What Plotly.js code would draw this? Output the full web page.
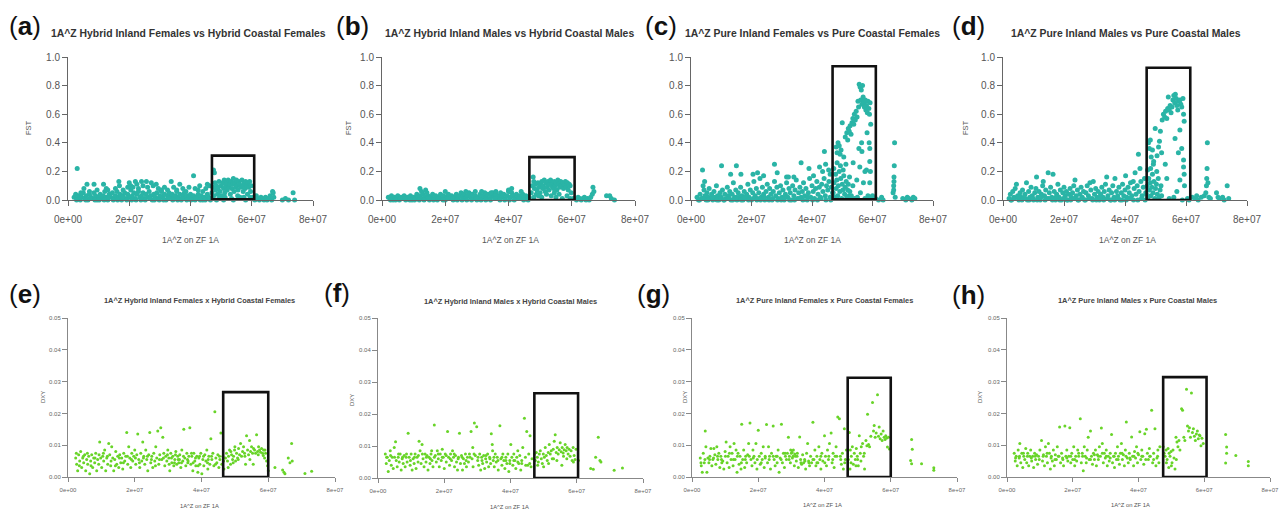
<!DOCTYPE html>
<html><head><meta charset="utf-8">
<script src="https://cdn.plot.ly/plotly-3.0.1.min.js"></script>
<style>body{margin:0;background:#fff}#chart{width:1282px;height:512px}</style>
</head><body><div id="chart"></div>
<script>
// positions in Mb along ZF 1A, values FST / DXY
const fstHybridFemales = [
[2,.02],[2.5,.04],[3,.01],[3.5,.03],[4,.0],[4.5,.02],[5,.05],[5.5,.01],[6,.03],[6.5,.0],[7,.04],[7.5,.02],[8,.01],[8.5,.05],[9,.03],[9.5,.0],[10,.02],[10.5,.04],[11,.01],[11.5,.03],[12,.06],[12.5,.02],[13,.0],[13.5,.04],[14,.02],[14.5,.05],[15,.01],[15.5,.03],[16,.06],[16.5,.02],[17,.04],[17.5,.0],[18,.03],[18.5,.05],[19,.01],[19.5,.04],[20,.02],[20.5,.07],[21,.03],[21.5,.05],[22,.01],[22.5,.04],[23,.06],[23.5,.02],[24,.03],[24.5,.05],[25,.01],[25.5,.04],[26,.02],[26.5,.06],[27,.03],[27.5,.0],[28,.04],[28.5,.02],[29,.05],[29.5,.01],[30,.03],[30.5,.06],[31,.02],[31.5,.04],[32,.0],[32.5,.03],[33,.05],[33.5,.02],[34,.04],[34.5,.01],[35,.03],[35.5,.06],[36,.02],[36.5,.04],[37,.0],[37.5,.03],[38,.05],[38.5,.01],[39,.03],[39.5,.02],[40,.04],[40.5,.01],[41,.03],[41.5,.0],[42,.02],[42.5,.04],[43,.01],[43.5,.03],[44,.0],[44.5,.02],[45,.01],[45.5,.04],[46,.02],[46.5,.0],
[2.8,.0],[4.2,.05],[5.8,.0],[7.2,.01],[8.8,.0],[10.2,.0],[11.8,.0],[13.2,.02],[14.8,.0],[16.2,.0],[17.8,.02],[19.2,.0],[20.8,.0],[22.2,.0],[23.8,.0],[25.2,.0],[26.8,.01],[28.2,.0],[29.8,.0],[31.2,.0],[32.8,.01],[34.2,.0],[35.8,.0],[37.2,.01],[38.8,.0],[40.2,.0],[41.8,.01],[43.2,.0],[44.8,.0],[46.2,.01],
[3,.22],[5.2,.08],[6.2,.11],[7,.06],[8.5,.11],[9.5,.07],[11.6,.11],[12.5,.08],[13,.07],[15.5,.08],[16.6,.13],[16.8,.1],[18,.07],[19.5,.09],[20,.12],[20.5,.1],[21.2,.09],[22,.13],[22.5,.11],[23,.08],[24,.13],[24.5,.1],[25.6,.13],[26,.09],[27.2,.12],[27.8,.1],[28.8,.11],[29.5,.08],[30.5,.07],[31.5,.09],[32.5,.07],[33.7,.13],[34.5,.09],[35.5,.07],[36.5,.11],[37.5,.08],[38.5,.06],[39.5,.09],[41,.17],[41.5,.08],[42.5,.07],[43,.1],[44,.06],[45,.08],[45.5,.11],[46.2,.1],[47.5,.21],[47.8,.19],
[47,.05],[47.3,.09],[47.6,.03],[48,.12],[48.2,.07],[48.5,.1],[48.8,.04],[49,.08],[49.3,.13],[49.6,.06],[50,.1],[50.2,.03],[50.5,.12],[50.8,.08],[51,.14],[51.2,.05],[51.5,.1],[51.8,.12],[52,.07],[52.3,.14],[52.5,.09],[52.8,.11],[53,.04],[53.2,.13],[53.5,.08],[53.8,.11],[54,.15],[54.2,.06],[54.5,.12],[54.8,.09],[55,.14],[55.2,.1],[55.5,.07],[55.8,.13],[56,.11],[56.2,.02],[56.5,.09],[56.8,.14],[57,.1],[57.2,.06],[57.5,.12],[57.8,.08],[58,.13],[58.3,.1],[58.6,.04],[58.8,.12],[59,.09],[59.3,.13],[59.6,.06],[59.8,.1],[49.5,.02],[51.3,.02],[53.4,.01],[55.4,.03],[57.4,.02],[59.5,.02],[48.5,.0],[50.8,.0],[54,.0],[58,.0],
[60.5,.02],[61,.0],[61.5,.03],[62,.01],[62.5,.0],[63,.02],[63.5,.01],[64,.0],[64.5,.02],[65,.0],[65.5,.01],[66,.03],[66.5,.0],[67,.05],[67.2,.02],[66.8,.06],[70,.0],[71,.01],[72,.0],[73.5,.05],[74,.0]
];
const fstHybridMales = [
[2,.02],[2.5,.01],[3,.03],[3.5,.0],[4,.02],[4.5,.01],[5,.03],[5.5,.0],[6,.02],[6.5,.01],[7,.03],[7.5,.0],[8,.02],[8.5,.01],[9,.03],[9.5,.0],[10,.02],[10.5,.01],[11,.04],[11.5,.02],[12,.03],[12.5,.01],[13,.04],[13.5,.02],[14,.01],[14.5,.03],[15,.0],[15.5,.02],[16,.04],[16.5,.01],[17,.03],[17.5,.0],[18,.02],[18.5,.04],[19,.01],[19.5,.03],[20,.0],[20.5,.02],[21,.04],[21.5,.01],[22,.03],[22.5,.0],[23,.02],[23.5,.04],[24,.01],[24.5,.03],[25,.05],[25.5,.02],[26,.04],[26.5,.01],[27,.03],[27.5,.05],[28,.02],[28.5,.04],[29,.01],[29.5,.03],[30,.0],[30.5,.02],[31,.04],[31.5,.01],[32,.03],[32.5,.05],[33,.02],[33.5,.04],[34,.01],[34.5,.03],[35,.05],[35.5,.02],[36,.04],[36.5,.01],[37,.03],[37.5,.05],[38,.02],[38.5,.04],[39,.01],[39.5,.03],[40,.06],[40.5,.02],[41,.05],[41.5,.03],[42,.01],[42.5,.04],[43,.02],[43.5,.03],[44,.01],[44.5,.04],[45,.02],[45.5,.03],[46,.01],[46.5,.02],
[2.7,.0],[4.3,.0],[5.8,.01],[7.3,.01],[8.8,.0],[10.3,.0],[11.8,.0],[13.3,.0],[14.8,.01],[16.3,.0],[17.8,.01],[19.3,.0],[20.8,.01],[22.3,.01],[23.8,.0],[25.3,.0],[26.8,.0],[28.3,.0],[29.8,.01],[31.3,.0],[32.8,.0],[34.3,.0],[35.8,.01],[37.3,.0],[38.8,.0],[40.3,.0],[41.8,.0],[43.3,.01],[44.8,.0],[46.2,.0],
[12,.08],[12.5,.06],[13.8,.07],[14.2,.05],[20,.06],[26.5,.06],[29.5,.06],[31.5,.06],[34.5,.05],[36,.06],[40,.07],[40.5,.06],[41,.08],[44,.06],
[47.2,.05],[47.5,.1],[47.8,.16],[48,.13],[48.2,.08],[48.5,.11],[48.8,.04],[49,.07],[49.3,.12],[49.6,.09],[50,.05],[50.2,.11],[50.5,.13],[50.8,.08],[51,.1],[51.3,.14],[51.6,.06],[51.9,.12],[52.2,.09],[52.5,.13],[52.8,.07],[53,.11],[53.3,.14],[53.6,.1],[53.9,.12],[54.2,.08],[54.5,.13],[54.8,.1],[55,.12],[55.3,.07],[55.6,.14],[55.9,.11],[56.2,.09],[56.5,.13],[56.8,.1],[57.1,.12],[57.4,.08],[57.7,.11],[58,.13],[58.3,.09],[58.6,.12],[58.9,.07],[59.2,.11],[59.5,.1],[59.8,.05],[48,.02],[49.5,.03],[50.5,.02],[52,.04],[53.5,.03],[55,.02],[57,.01],[58.5,.03],[59.5,.01],[56,.04],[54.5,.05],
[60.5,.01],[61.5,.0],[62,.02],[62.5,.01],[63,.0],[63.5,.01],[64,.02],[64.5,.0],[65,.01],[65.5,.0],[66,.02],[66.5,.04],[66.7,.09],[67,.06],[71,.03],[72,.03],[72.5,.01],[73.5,.0]
];
const fstPureFemales = [
[2,.02],[2.5,.0],[3,.04],[3.5,.01],[4,.1],[4.3,.07],[4.6,.03],[5,.0],[5.3,.05],[5.7,.02],[6,.08],[6.4,.01],[6.8,.04],[7.2,.0],[7.6,.06],[8,.02],[8.4,.1],[8.8,.03],[9.2,.0],[9.6,.05],[10,.02],[10.4,.07],[10.8,.0],[11.2,.04],[11.6,.01],[12,.09],[12.4,.03],[12.8,.06],[13.2,.0],[13.6,.04],[14,.12],[14.4,.02],[14.8,.07],[15.2,.0],[15.6,.05],[16,.02],[16.4,.09],[16.8,.03],[17.2,.0],[17.6,.06],[18,.01],[18.4,.04],[18.8,.11],[19.2,.02],[19.6,.07],[20,.0],[20.4,.05],[20.8,.13],[21.2,.03],[21.6,.08],[22,.01],[22.4,.05],[22.8,.15],[23.2,.02],[23.6,.09],[24,.04],[24.4,.0],[24.8,.06],[25.2,.11],[25.6,.02],[26,.08],[26.4,.04],[26.8,.0],[27.2,.06],[27.6,.13],[28,.03],[28.4,.09],[28.8,.01],[29.2,.05],[29.6,.1],[30,.02],[30.4,.07],[30.8,.0],[31.2,.04],[31.6,.12],[32,.02],[32.4,.08],[32.8,.05],[33.2,.0],[33.6,.1],[34,.03],[34.4,.07],[34.8,.14],[35.2,.01],[35.6,.05],[36,.09],[36.4,.02],[36.8,.06],[37.2,.12],[37.6,.03],[38,.08],[38.4,.0],[38.8,.05],[39.2,.15],[39.6,.02],[40,.1],[40.4,.06],[40.8,.01],[41.2,.08],[41.6,.13],[42,.04],[42.4,.09],[42.8,.02],[43.2,.11],[43.6,.06],[44,.15],[44.4,.03],[44.8,.1],[45.2,.07],[45.6,.13],[46,.02],[46.4,.09],[46.8,.05],
[2.8,.0],[3.8,.01],[5.6,.0],[7,.02],[8.6,.0],[9.8,.01],[11,.0],[12.6,.01],[13.8,.0],[15,.02],[16.6,.0],[17.8,.02],[19,.0],[20.6,.01],[21.8,.0],[23,.0],[24.2,.02],[25.8,.0],[27,.01],[28.6,.0],[29.8,.0],[31,.02],[32.6,.0],[34.2,.0],[35.8,.01],[37,.0],[38.6,.02],[40.2,.0],[41.8,.0],[43,.01],[44.6,.0],[46.2,.0],
[3.8,.21],[4.5,.13],[10.1,.24],[13.1,.18],[15,.24],[16.5,.18],[20.5,.18],[22,.19],[24,.17],[27.6,.25],[28.5,.19],[31.6,.16],[32.2,.16],[34,.16],[36.4,.26],[39,.22],[40.5,.17],[42.5,.23],[43.5,.2],[44.1,.34],[44.5,.25],[45.5,.21],[46,.18],
[47,.05],[47.3,.12],[47.5,.02],[47.8,.18],[48,.08],[48.2,.14],[48.5,.03],[48.7,.1],[49,.2],[49.2,.06],[49.5,.15],[49.8,.01],[50,.11],[50.2,.07],[50.5,.17],[50.8,.04],[51,.09],[51.3,.13],[51.5,.02],[51.8,.07],[52,.11],[52.3,.03],[52.5,.06],[47.2,.22],[48.3,.26],[49.4,.24],[50.3,.21],[51.2,.25],[52.4,.16],[53,.03],[53.5,.1],[54,.01],[55,.02],[56,.05],[57.5,.01],[58.5,.03],[59.5,.02],[60,.03],
[48,.37],[48.3,.33],[48.6,.4],[49,.38],[49.3,.32],[49.6,.35],[50,.54],[50.5,.3],[51,.44],[51.5,.47],[51.8,.42],[52,.5],[52.3,.48],[52.6,.52],[52.9,.46],[53.2,.54],[53.5,.57],[53.8,.53],[54,.6],[54.3,.56],[54.6,.62],[54.9,.58],[55.2,.69],[55.4,.65],[55.6,.81],[55.9,.79],[56.1,.7],[56.3,.77],[56.5,.67],[56.7,.8],[56.9,.72],[57.1,.68],[57.3,.65],[57.6,.7],[57.8,.63],[58,.66],[58.3,.61],[58.5,.69],[58.8,.64],[59,.6],[59.2,.68],[59.4,.53],[58.2,.47],[56.4,.4],[58.9,.4],[59.1,.36],[59.1,.27],[58,.21],[59.1,.12],[57,.12],[55.8,.23],[53.6,.26],[54.8,.14],[57.5,.2],[59.3,.2],[55.5,.36],[56.5,.34],
[61,.01],[62,.0],[63,.02],[63.5,.0],[66.8,.05],[67,.07],[67,.1],[67.1,.13],[67.1,.16],[67.2,.24],[67.3,.4],[67.5,.02],[70,.01],[71,.0],[71.5,.02],[72,.01],[73,.0],[73.5,.02],[74,.01]
];
const fstPureMales = [
[2,.01],[2.4,.04],[2.8,.0],[3.2,.06],[3.6,.02],[4,.08],[4.4,.11],[4.8,.03],[5.2,.0],[5.6,.05],[6,.02],[6.4,.07],[6.8,.01],[7.2,.04],[7.7,.12],[8,.0],[8.4,.06],[8.8,.02],[9.2,.09],[9.6,.03],[10,.0],[10.4,.05],[10.8,.08],[11,.16],[11.4,.02],[11.8,.06],[12.2,.0],[12.6,.04],[13,.1],[13.2,.13],[13.6,.03],[14,.07],[14.4,.01],[14.8,.19],[15.2,.05],[15.6,.09],[16,.02],[16.4,.18],[16.8,.06],[17.2,.0],[17.6,.04],[18,.11],[18.4,.02],[18.8,.07],[19.2,.0],[19.6,.05],[20,.09],[20.4,.03],[20.8,.06],[21.2,.0],[21.6,.04],[22,.08],[22.4,.02],[22.8,.05],[23.2,.1],[23.6,.14],[24,.03],[24.4,.07],[24.8,.0],[25.2,.04],[25.6,.09],[26,.02],[26.4,.06],[26.8,.0],[27.2,.05],[27.6,.1],[28,.03],[28.5,.12],[28.8,.07],[29.2,.01],[29.6,.13],[30,.04],[30.4,.08],[30.8,.02],[31.2,.06],[31.6,.0],[32,.04],[32.4,.09],[32.8,.02],[33.2,.06],[33.6,.11],[34,.16],[34.4,.03],[34.8,.07],[35.2,.0],[35.6,.05],[36,.1],[36.4,.02],[36.7,.15],[37.2,.06],[37.6,.03],[38,.09],[38.4,.0],[38.8,.05],[39.2,.11],[39.6,.03],[40,.07],[40.2,.17],[40.6,.02],[41,.09],[41.4,.05],[41.8,.12],[42.2,.03],[42.7,.13],[43,.08],[43.3,.19],[43.6,.04],[44,.1],[44.4,.32],[44.6,.06],[44.9,.22],[45.2,.13],[45.6,.03],[46,.09],[46.4,.15],[46.8,.05],
[2.6,.0],[3.8,.01],[5,.02],[6.2,.0],[7.4,.01],[8.6,.0],[9.8,.01],[11.2,.0],[12.4,.02],[13.8,.0],[15,.01],[16.2,.0],[17.4,.02],[18.6,.0],[19.8,.01],[21,.0],[22.2,.0],[23.4,.01],[24.6,.0],[25.8,.01],[27,.0],[28.2,.01],[29.4,.0],[30.6,.0],[31.8,.02],[33,.0],[34.2,.01],[35.4,.0],[36.6,.0],[37.8,.01],[39,.0],[40.4,.0],[41.6,.01],[42.8,.0],[44.2,.0],[45.4,.01],[46.6,.0],
[47,.04],[47.3,.1],[47.5,.02],[47.8,.15],[48,.07],[48.3,.12],[48.5,.03],[48.8,.09],[49,.18],[49.2,.05],[49.5,.13],[49.8,.01],[50,.08],[50.3,.11],[50.6,.04],[50.9,.15],[51.2,.02],[51.5,.07],[51.8,.1],[52,.03],[47.4,.21],[48.4,.22],[49.3,.25],[50.4,.2],
[47.7,.4],[48,.36],[48.3,.42],[48.6,.3],[49,.35],[49.4,.27],[49.9,.5],[50.5,.31],[51,.37],[51.3,.41],[51.6,.48],[52,.33],[52.2,.56],[52.6,.6],[53,.58],[53.3,.62],[53.7,.57],[54,.64],[54.2,.72],[54.5,.63],[54.8,.66],[55.1,.61],[55.4,.65],[55.7,.7],[56,.73],[56.3,.68],[56.5,.74],[56.8,.71],[57,.66],[57.3,.63],[57.6,.69],[58,.7],[58.3,.67],[58.6,.65],[59,.71],[59.2,.6],[59.4,.55],[58,.49],[56.4,.43],[57.5,.33],[58.6,.36],[59.2,.28],[59.2,.23],[59.4,.18],[58,.14],[57,.06],[53.7,.15],[53.2,.25],[59.5,.1],[56,.02],[54.5,.01],[58.8,.0],
[60.5,.01],[61,.0],[62,.02],[63,.01],[63.5,.03],[64,.0],[65,.02],[66,.03],[66.5,.05],[66.7,.1],[66.8,.15],[66.9,.22],[67,.4],[67.2,.12],[67.5,.02],[68,.01],[70,.05],[70.5,.02],[71,.01],[72,.02],[72.5,.0],[73.5,.1],[74,.01]
];
const dxyHybridFemales = [
[2.3,.006],[2.6,.004],[2.9,.002],[3.2,.007],[3.5,.005],[3.8,.008],[4.1,.003],[4.4,.006],[4.7,.0045],[5,.007],[5.3,.002],[5.6,.0055],[5.9,.004],[6.2,.0065],[6.5,.001],[6.8,.005],[7.1,.007],[7.4,.003],[7.7,.006],[8,.0045],[8.3,.0075],[8.6,.002],[8.9,.0055],[9.2,.004],[9.5,.011],[9.8,.006],[10.1,.003],[10.4,.0065],[10.7,.005],[11,.0085],[11.3,.002],[11.6,.006],[11.9,.004],[12.2,.0105],[12.5,.007],[12.8,.0035],[13.1,.0095],[13.4,.006],[13.7,.002],[14,.0055],[14.3,.008],[14.6,.004],[14.9,.0065],[15.2,.003],[15.5,.007],[15.8,.0045],[16.1,.006],[16.4,.0025],[16.7,.0075],[17,.005],[17.3,.0065],[17.6,.014],[17.9,.004],[18.2,.0095],[18.5,.006],[18.8,.003],[19.1,.0075],[19.4,.005],[19.7,.0065],[20,.0085],[20.3,.004],[20.6,.007],[20.9,.0135],[21.2,.0055],[21.5,.003],[21.8,.0075],[22.1,.005],[22.4,.011],[22.7,.0065],[23,.004],[23.3,.0085],[23.6,.0055],[23.9,.002],[24.2,.007],[24.5,.014],[24.8,.0045],[25.1,.0065],[25.4,.003],[25.7,.0075],[26,.005],[26.3,.0095],[26.6,.006],[26.9,.0145],[27.2,.004],[27.5,.007],[27.8,.0155],[28.1,.0055],[28.4,.0125],[28.7,.0075],[29,.0035],[29.3,.0065],[29.6,.005],[29.9,.0085],[30.2,.006],[30.5,.002],[30.8,.0075],[31.1,.0045],[31.4,.0065],[31.7,.0035],[32,.0055],[32.3,.008],[32.6,.004],[32.9,.0065],[33.2,.0045],[33.5,.007],[33.8,.003],[34.1,.0085],[34.4,.005],[34.7,.015],[35,.006],[35.3,.0035],[35.6,.0075],[35.9,.0045],[36.2,.0065],[36.5,.0155],[36.8,.004],[37.1,.0065],[37.4,.002],[37.7,.0075],[38,.005],[38.3,.0035],[38.6,.0065],[38.9,.0015],[39.2,.006],[39.5,.004],[39.8,.0075],[40.1,.001],[40.4,.0055],[40.7,.0035],[41,.007],[41.3,.005],[41.6,.0085],[41.9,.0025],[42.2,.0065],[42.5,.004],[42.8,.012],[43.1,.0055],[43.4,.0075],[43.7,.0035],[44,.0205],[44.3,.006],[44.6,.0045],[44.9,.007],[45.2,.003],[45.5,.0055],[45.8,.0138],[46.1,.004],[46.4,.0065],[46.7,.0025],
[2.5,.0075],[3.4,.0035],[4.6,.0065],[5.8,.0075],[6.9,.0035],[8.1,.006],[9.3,.007],[10.6,.0075],[11.8,.0065],[12.9,.005],[14.2,.0035],[15.4,.006],[16.6,.0045],[17.8,.0065],[19,.0055],[20.2,.006],[21.4,.0045],[22.6,.006],[23.8,.0065],[25,.0055],[26.2,.0035],[27.4,.0055],[28.6,.006],[29.8,.007],[31,.006],[32.2,.007],[33.4,.0055],[34.6,.0065],[35.8,.0055],[37,.0075],[38.2,.006],[39.4,.0065],[40.6,.0065],[41.8,.0045],[43,.0065],[44.2,.004],[45.4,.0065],[46.6,.005],[30.3,.004],[31.9,.0045],[33,.0055],[34,.0045],[36,.005],[37.5,.0045],[39,.0035],[42,.0055],
[47.2,.006],[47.5,.0075],[47.8,.005],[48.1,.0065],[48.4,.0085],[48.7,.004],[49,.007],[49.3,.0055],[49.6,.0065],[49.9,.0085],[50.2,.005],[50.5,.0075],[50.8,.006],[51.1,.009],[51.4,.007],[51.7,.0105],[52,.0065],[52.3,.008],[52.6,.0095],[52.9,.0075],[53.2,.004],[53.5,.013],[53.8,.0085],[54.1,.007],[54.4,.0115],[54.7,.008],[55,.0095],[55.3,.0075],[55.6,.009],[55.9,.0085],[56.2,.0075],[56.5,.0133],[56.8,.008],[57.1,.0095],[57.4,.0085],[57.7,.0078],[58,.009],[58.3,.0075],[58.6,.0085],[58.9,.006],[59.2,.0075],[59.5,.005],[59.8,.0035],[60,.002],[48,.003],[49.5,.0045],[51,.0055],[53,.0065],[54.5,.0055],[55.5,.004],[57,.007],[58.5,.0068],[59,.0085],[50,.0095],[48.8,.008],
[62,.003],[64.3,.0022],[64.7,.0015],[65,.001],[66,.006],[66.5,.0045],[67,.0105],[67.2,.005],[71,.0011],[73,.0018]
];
const dxyHybridMales = [
[2.2,.0075],[2.5,.0045],[2.8,.0065],[3.1,.002],[3.4,.0055],[3.7,.0085],[4,.004],[4.3,.0065],[4.6,.003],[4.9,.0095],[5.3,.0113],[5.5,.0055],[5.8,.0035],[6.1,.0065],[6.4,.005],[6.7,.0075],[7,.0025],[7.3,.006],[7.6,.0045],[7.9,.007],[8.2,.0035],[8.5,.0065],[8.8,.005],[9.1,.014],[9.4,.0065],[9.7,.004],[10,.0075],[10.3,.0025],[10.6,.006],[10.9,.0045],[11.2,.0075],[11.5,.003],[11.8,.0065],[12.1,.005],[12.4,.0115],[12.7,.0085],[13,.0045],[13.3,.0105],[13.6,.006],[13.9,.0035],[14.2,.0075],[14.5,.005],[14.8,.007],[15.1,.0025],[15.4,.0065],[15.7,.0045],[16,.0075],[16.3,.0055],[16.6,.0035],[17,.0166],[17.3,.007],[17.6,.005],[17.9,.0085],[18.2,.006],[18.5,.0035],[18.8,.0075],[19.1,.0055],[19.4,.009],[19.7,.0065],[20,.003],[20.3,.0075],[20.6,.005],[21,.0145],[21.3,.0065],[21.6,.004],[21.9,.0075],[22.2,.0055],[22.5,.0085],[22.8,.0065],[23.1,.0035],[23.4,.007],[23.7,.005],[24,.0025],[24.3,.0065],[24.6,.014],[24.9,.0045],[25.2,.007],[25.5,.0025],[25.8,.006],[26.1,.0045],[26.4,.0075],[26.7,.0035],[27,.0065],[27.3,.005],[27.6,.0075],[28.1,.0145],[28.4,.006],[28.7,.0035],[29.1,.0172],[29.4,.007],[29.8,.016],[30.1,.0055],[30.4,.004],[30.7,.0075],[31,.0025],[31.3,.0065],[31.6,.0045],[31.9,.007],[32.2,.003],[32.5,.006],[32.8,.005],[33.1,.0075],[33.4,.0035],[33.7,.0065],[34,.0045],[34.2,.0138],[34.5,.0105],[34.8,.0055],[35.1,.0035],[35.4,.0075],[35.7,.005],[36,.0065],[36.3,.0025],[36.8,.0163],[37.1,.006],[37.4,.004],[37.7,.0075],[38,.0055],[38.3,.003],[38.6,.0065],[38.9,.0045],[39.2,.0075],[39.5,.002],[39.8,.0055],[40.1,.0105],[40.4,.0065],[40.7,.004],[41,.0075],[41.3,.0055],[41.6,.003],[41.9,.0065],[42.2,.0085],[42.5,.0045],[42.8,.007],[43.1,.0025],[43.4,.0055],[43.7,.0095],[44.2,.0187],[44.5,.0065],[44.9,.0145],[45.2,.004],[45.5,.0075],[45.9,.0132],[46.2,.0035],[46.5,.006],
[2.6,.0065],[3.8,.007],[5,.0065],[6.2,.0075],[7.4,.0065],[8.6,.0075],[9.8,.0055],[11,.0065],[12.2,.007],[13.4,.0075],[14.6,.0065],[15.8,.006],[17,.0065],[18.2,.0075],[19.4,.0065],[20.6,.007],[21.8,.006],[23,.0075],[24.2,.006],[25.4,.0065],[26.6,.0055],[27.8,.0065],[29,.0075],[30.2,.0065],[31.4,.0055],[32.6,.007],[33.8,.006],[35,.0065],[36.2,.0055],[37.4,.0065],[38.6,.0055],[39.8,.0045],[41,.0055],[42.2,.005],[43.4,.0045],[44.6,.004],[45.8,.0045],[34.6,.0085],[28.6,.0095],[16.2,.0085],
[47.2,.0075],[47.5,.0055],[47.8,.008],[48.1,.0065],[48.4,.005],[48.7,.0075],[49,.0085],[49.3,.006],[49.6,.0045],[49.9,.0075],[50.2,.0065],[50.5,.0095],[50.8,.007],[51.1,.0055],[51.4,.008],[51.7,.0105],[52,.0075],[52.3,.0085],[52.6,.006],[52.9,.009],[53.2,.0115],[53.5,.0135],[53.8,.008],[54.1,.0095],[54.4,.0075],[54.7,.0088],[55,.011],[55.3,.0082],[55.6,.0095],[55.9,.0078],[56.2,.0088],[56.5,.0105],[56.8,.0085],[57.1,.0095],[57.4,.0075],[57.7,.009],[58,.0068],[58.3,.0085],[58.6,.0055],[58.9,.0095],[59.2,.007],[59.5,.0058],[59.8,.009],[48.2,.004],[50,.0035],[51.5,.0045],[53,.006],[55.5,.004],[57,.006],[59,.005],[54,.0055],[56,.0068],
[60.5,.0055],[64.2,.003],[65,.0027],[65.7,.0065],[66.5,.0127],[67,.0055],[67.3,.005],[71.3,.0024],[73.8,.0031]
];
const dxyPureFemales = [
[2.5,.006],[2.8,.0035],[3.1,.0015],[3.4,.0075],[3.7,.0045],[4,.0145],[4.2,.0095],[4.5,.0015],[4.8,.006],[5.1,.0045],[5.4,.0065],[5.7,.009],[6,.0035],[6.3,.0055],[6.6,.009],[6.9,.007],[7.2,.004],[7.5,.0095],[7.8,.0055],[8.1,.0075],[8.4,.003],[8.7,.0065],[9,.0045],[9.3,.005],[9.6,.0025],[10,.008],[10.3,.011],[10.6,.0045],[10.9,.0065],[11.2,.003],[11.5,.0095],[11.8,.0055],[12.1,.0075],[12.4,.0035],[12.7,.0105],[13,.0055],[13.3,.0085],[13.6,.0015],[13.9,.0075],[14.2,.004],[14.5,.0065],[14.8,.0025],[15,.0166],[15.3,.0055],[15.6,.0085],[15.9,.003],[16.2,.0065],[16.5,.0045],[16.8,.007],[17.1,.0105],[17.5,.017],[17.8,.0055],[18.1,.0035],[18.4,.0085],[18.7,.0065],[19,.0045],[19.3,.0105],[19.6,.0025],[20,.0147],[20.3,.0065],[20.6,.004],[20.9,.0075],[21.2,.0055],[21.5,.0095],[21.8,.003],[22.1,.0065],[22.5,.0165],[22.8,.0045],[23.1,.0095],[23.4,.0065],[23.7,.0025],[24,.0075],[24.5,.016],[24.8,.0055],[25.1,.0035],[25.4,.0065],[25.7,.0045],[26,.0085],[26.3,.0015],[26.6,.006],[27,.0166],[27.3,.0045],[27.6,.0075],[27.9,.003],[28.2,.0065],[28.5,.0055],[28.8,.0075],[29.1,.0125],[29.4,.0065],[29.7,.0045],[30,.0075],[30.3,.006],[30.6,.0085],[30.9,.0035],[31.2,.0065],[31.5,.005],[31.8,.0075],[32.1,.003],[32.5,.0126],[32.8,.0055],[33.1,.004],[33.4,.007],[33.7,.0045],[34,.0055],[34.3,.0025],[34.6,.0075],[34.9,.0105],[35.2,.005],[35.5,.0035],[35.8,.0065],[36.1,.0045],[36.5,.0172],[36.8,.0055],[37.1,.0085],[37.4,.0035],[37.7,.0065],[38,.0045],[38.3,.0095],[38.6,.0055],[38.9,.0025],[39.2,.0075],[39.5,.005],[40,.013],[40.3,.0065],[40.6,.0035],[40.9,.0085],[41.2,.0055],[41.5,.0105],[42,.0138],[42.3,.0045],[42.6,.0075],[42.9,.003],[43.2,.0065],[43.5,.0095],[44,.0189],[44.5,.0183],[44.8,.0065],[45.1,.004],[45.4,.0075],[45.7,.0025],[46,.0152],[46.3,.0055],[46.6,.0085],
[2.7,.0045],[3.9,.0055],[5.3,.0055],[6.5,.006],[7.7,.0065],[8.9,.0055],[10.1,.0065],[11.3,.0075],[12.5,.0055],[13.7,.0065],[14.9,.0045],[16.1,.0055],[17.3,.0065],[18.5,.006],[19.7,.0055],[20.9,.0045],[22.1,.006],[23.3,.0055],[24.5,.0065],[25.7,.0065],[26.9,.0055],[28.1,.0075],[29.3,.0055],[30.5,.0065],[31.7,.0065],[32.9,.0045],[34.1,.005],[35.3,.0045],[36.5,.0055],[37.7,.0045],[38.9,.0065],[40.1,.0045],[41.3,.0065],[42.5,.0055],[43.7,.0065],[44.9,.0055],[46.1,.0045],[29.8,.0085],[30.2,.0078],[31,.0072],
[47.2,.0055],[47.5,.014],[47.8,.0085],[48.1,.0065],[48.4,.0095],[48.7,.004],[49,.0075],[49.3,.0055],[49.6,.009],[49.9,.0065],[50.2,.0035],[50.5,.013],[50.8,.0075],[51.1,.0095],[51.5,.0105],[51.8,.0065],[52.1,.0025],[52.5,.0115],[52.8,.0098],[53,.0197],[53.3,.0102],[53.6,.0095],[54,.0128],[54.5,.0234],[54.8,.0145],[55,.0162],[55.3,.0125],[55.6,.0138],[56,.0259],[56.3,.0128],[56.5,.0157],[56.8,.012],[57.1,.0135],[57.4,.0115],[57.7,.0145],[58,.0125],[58.3,.0118],[58.5,.013],[58.8,.0123],[59,.0094],[59.3,.0125],[59.6,.0088],[48,.0045],[49.5,.0035],[51,.005],[52,.0075],[47.7,.0025],[50,.0055],
[66,.0052],[66.3,.0118],[66.3,.0042],[66.5,.0087],[69.3,.0042],[73,.0029],[73,.0021]
];
const dxyPureMales = [
[2.2,.0075],[2.5,.005],[2.8,.0065],[3.1,.0035],[3.4,.0085],[3.7,.006],[3.9,.0105],[4.2,.0045],[4.5,.0075],[4.8,.003],[5.1,.0065],[5.4,.0055],[5.7,.009],[6,.0045],[6.3,.0075],[6.6,.0035],[6.9,.0065],[7.2,.0085],[7.5,.005],[7.8,.0065],[8.1,.003],[8.4,.0075],[8.7,.0055],[9,.007],[9.3,.004],[9.6,.0065],[10,.0085],[10.5,.0115],[10.8,.005],[11.1,.007],[11.4,.0035],[11.7,.0095],[12,.0065],[12.3,.0045],[12.6,.0105],[12.9,.0075],[13.2,.0025],[13.5,.0065],[13.8,.005],[14.1,.0085],[14.4,.0035],[14.7,.007],[15,.0055],[15.3,.0095],[15.6,.0065],[16,.0157],[16.3,.0045],[16.6,.0075],[16.9,.006],[17.2,.0035],[17.6,.016],[17.9,.0065],[18.2,.0085],[18.5,.005],[18.8,.0065],[19.1,.0155],[19.4,.0045],[19.7,.0075],[20,.0055],[20.3,.0095],[20.6,.0035],[20.9,.0065],[21.2,.005],[21.5,.0085],[21.8,.0065],[22.3,.0183],[22.6,.0045],[22.9,.0075],[23.2,.002],[23.5,.0095],[23.8,.0065],[24.1,.0045],[24.4,.0085],[24.7,.0125],[25,.0055],[25.4,.0145],[25.7,.0065],[26,.004],[26.3,.0075],[26.6,.0055],[26.9,.0085],[27.2,.0035],[27.5,.007],[27.8,.0055],[28.1,.0095],[28.4,.0065],[28.7,.0154],[29,.0105],[29.3,.0045],[29.6,.0075],[29.9,.006],[30.2,.0085],[30.5,.0035],[30.8,.0065],[31.1,.005],[31.4,.0075],[31.8,.0134],[32.1,.0045],[32.4,.0065],[32.7,.003],[33,.0075],[33.3,.0055],[33.6,.0095],[33.9,.0065],[34.2,.004],[34.5,.0075],[34.8,.0105],[35.1,.0055],[35.4,.007],[35.7,.0035],[36,.0085],[36.3,.0173],[36.6,.006],[36.9,.0045],[37.2,.0075],[37.5,.0055],[37.9,.0126],[38.2,.0065],[38.5,.0035],[38.8,.008],[39.1,.006],[39.4,.0095],[39.7,.0045],[40,.007],[40.4,.0142],[40.7,.0055],[41,.0085],[41.3,.0065],[41.6,.004],[41.9,.0136],[42.4,.015],[42.7,.0075],[43,.0055],[43.3,.009],[43.6,.0065],[44,.021],[44.3,.0045],[44.6,.0075],[45,.0152],[45.3,.0035],[45.6,.006],[45.9,.0085],[46.2,.0045],[46.5,.0095],
[2.6,.006],[3.8,.0065],[5,.0075],[6.2,.0065],[7.4,.006],[8.6,.0065],[9.8,.0055],[11,.0065],[12.2,.0075],[13.4,.006],[14.6,.0055],[15.8,.0065],[17,.0055],[18.2,.006],[19.4,.0065],[20.6,.0055],[21.8,.0075],[23,.0065],[24.2,.006],[25.4,.0055],[26.6,.007],[27.8,.0065],[29,.0075],[30.2,.0065],[31.4,.006],[32.6,.0065],[33.8,.0055],[35,.0075],[36.2,.0065],[37.4,.006],[38.6,.0065],[39.8,.0075],[41,.0065],[42.2,.0055],[43.4,.0065],[44.6,.0055],[45.8,.0065],
[47.5,.0095],[47.8,.0075],[48.1,.0065],[48.4,.0085],[48.7,.0055],[49,.009],[49.3,.0075],[49.6,.0065],[49.9,.008],[50.2,.0045],[50.5,.0085],[50.8,.006],[51.1,.0025],[51.4,.0125],[51.7,.011],[52,.0095],[52.3,.0115],[52.6,.0085],[53.1,.0215],[53.4,.021],[53.8,.0125],[54.1,.0115],[54.6,.0276],[54.9,.016],[55.2,.0145],[55.5,.0155],[55.8,.0125],[56.1,.0264],[56.4,.014],[56.7,.0152],[57,.0128],[57.3,.0115],[57.6,.0135],[57.9,.0145],[58.2,.012],[58.5,.0132],[58.7,.013],[59,.0098],[59.3,.0122],[59.7,.0105],[48.5,.0045],[50,.0035],[51.5,.0055],[49.2,.003],
[66.5,.0134],[66.8,.0094],[66.8,.0075],[66.5,.0044],[69.6,.0068],[73.4,.0049],[73.4,.0035]
];

const xTickVals = [0, 2e7, 4e7, 6e7, 8e7];
const xTickText = ['0e+00','2e+07','4e+07','6e+07','8e+07'];
const fstTickVals = [0, 0.2, 0.4, 0.6, 0.8, 1.0];
const fstTickText = ['0.0','0.2','0.4','0.6','0.8','1.0'];
const dxyTickVals = [0, 0.01, 0.02, 0.03, 0.04, 0.05];
const dxyTickText = ['0.00','0.01','0.02','0.03','0.04','0.05'];
const xLabel = '1A^Z on ZF 1A';

const titles = [
 '1A^Z Hybrid Inland Females vs Hybrid Coastal Females',
 '1A^Z Hybrid Inland Males vs Hybrid Coastal Males',
 '1A^Z Pure Inland Females vs Pure Coastal Females',
 '1A^Z Pure Inland Males vs Pure Coastal Males',
 '1A^Z Hybrid Inland Females x Hybrid Coastal Females',
 '1A^Z Hybrid Inland Males x Hybrid Coastal Males',
 '1A^Z Pure Inland Females x Pure Coastal Females',
 '1A^Z Pure Inland Males x Pure Coastal Males'
];
const series = [fstHybridFemales, fstHybridMales, fstPureFemales, fstPureMales,
                dxyHybridFemales, dxyHybridMales, dxyPureFemales, dxyPureMales];
const letters = ['a','b','c','d','e','f','g','h'];

// layout geometry (pixels) and highlight boxes (Mb, value)
const W = 1282, H = 512;
const geom = [
 {px:[68,313],  py:[57,200], lab:[25,26],  tit:[188,33],  xt:[190,240], yt:[28,128],  box:[47,60.8,.005,.31]},
 {px:[382,635], py:[57,200], lab:[352,26], tit:[509,33],  xt:[511,240], yt:[348,128], box:[46.6,60.9,0,.30]},
 {px:[691,933], py:[57,200], lab:[661,26], tit:[812,33],  xt:[812,240], yt:null,      box:[46.8,61.1,.005,.935]},
 {px:[1003,1247],py:[57,200],lab:[968,26], tit:[1126,33], xt:[1127,240],yt:[965,128], box:[47.1,61.4,0,.925]},
 {px:[68,335],  py:[318,477], lab:[25,294], tit:[199,300], xt:[199,506], yt:[43,397],  box:[46.5,60,0,.0267]},
 {px:[378,643], py:[318,478], lab:[337,293],tit:[511,301], xt:[509,507], yt:[352,400], box:[47.2,60.4,0,.0265]},
 {px:[692,957], py:[318,477], lab:[653,294],tit:[824,300], xt:[822,505], yt:[685,397], box:[47,60,0,.0312]},
 {px:[1007,1270],py:[318,477],lab:[968,295],tit:[1137,300],xt:[1130,505],yt:[980,397], box:[47.5,60.7,0,.0314]}
];

const FONT = 'Liberation Sans, Arial, Helvetica, sans-serif';
const traces = [], annotations = [], shapes = [];
const layout = {
  width: W, height: H, margin: {l:0, r:0, t:0, b:0},
  paper_bgcolor: '#fff', plot_bgcolor: '#fff', showlegend: false,
  font: {family: FONT}, hovermode: false
};
const px2x = v => v / W, py2y = v => 1 - v / H;

series.forEach((data, i) => {
  const g = geom[i];
  const top = i < 4;
  const n = i + 1;
  const xa = 'x' + (n === 1 ? '' : n), ya = 'y' + (n === 1 ? '' : n);
  traces.push({
    type: 'scatter', mode: 'markers',
    x: data.map(p => p[0] * 1e6), y: data.map(p => p[1]),
    xaxis: xa, yaxis: ya, cliponaxis: false,
    marker: {size: top ? 5 : 3, color: top ? '#2ab4a6' : '#68d428', line: {width: 0}}
  });
  const axc = top ? '#666' : '#888';
  const tf = {family: FONT, size: top ? 10 : 6, color: top ? '#555' : '#666'};
  layout['xaxis' + (n === 1 ? '' : n)] = {
    domain: [px2x(g.px[0]), px2x(g.px[1])], anchor: ya,
    range: [0, 8e7], tickvals: xTickVals, ticktext: xTickText,
    ticks: 'outside', ticklen: top ? 5 : 4, tickwidth: 1, tickcolor: axc,
    showline: true, linecolor: axc, linewidth: 1, showgrid: false, zeroline: false,
    tickfont: tf, ticklabelstandoff: top ? 5 : 3, fixedrange: true
  };
  layout['yaxis' + (n === 1 ? '' : n)] = {
    domain: [py2y(g.py[1]), py2y(g.py[0])], anchor: xa,
    range: top ? [0, 1] : [0, 0.05],
    tickvals: top ? fstTickVals : dxyTickVals, ticktext: top ? fstTickText : dxyTickText,
    ticks: 'outside', ticklen: 5, tickwidth: 1, tickcolor: axc,
    showline: true, linecolor: axc, linewidth: 1, showgrid: false, zeroline: false,
    tickfont: tf, fixedrange: true
  };
  const b = g.box;
  shapes.push({type: 'rect', xref: xa, yref: ya, x0: b[0] * 1e6, x1: b[1] * 1e6, y0: b[2], y1: b[3],
               line: {color: '#111', width: 2.6}, fillcolor: 'rgba(0,0,0,0)'});
  annotations.push({xref:'paper', yref:'paper', x: px2x(g.lab[0]), y: py2y(g.lab[1]),
    xanchor:'center', yanchor:'middle', showarrow:false, text: '(<b>' + letters[i] + '</b>)',
    font:{family: FONT, size: 26, color:'#111'}});
  annotations.push({xref:'paper', yref:'paper', x: px2x(g.tit[0]), y: py2y(g.tit[1]),
    xanchor:'center', yanchor:'middle', showarrow:false, text: '<b>' + titles[i] + '</b>',
    font:{family: FONT, size: top ? 10.4 : 7.4, color: top ? '#333' : '#444'}});
  annotations.push({xref:'paper', yref:'paper', x: px2x(g.xt[0]), y: py2y(g.xt[1]),
    xanchor:'center', yanchor:'middle', showarrow:false, text: xLabel,
    font:{family: FONT, size: top ? 8.5 : 5.8, color:'#555'}});
  if (g.yt) annotations.push({xref:'paper', yref:'paper', x: px2x(g.yt[0]), y: py2y(g.yt[1]),
    xanchor:'center', yanchor:'middle', showarrow:false, textangle: -90,
    text: top ? 'FST' : 'DXY', font:{family: FONT, size: top ? 7.5 : 6, color:'#555'}});
});
layout.shapes = shapes;
layout.annotations = annotations;
Plotly.newPlot('chart', traces, layout, {displayModeBar: false, staticPlot: true});
</script>
</body></html>
